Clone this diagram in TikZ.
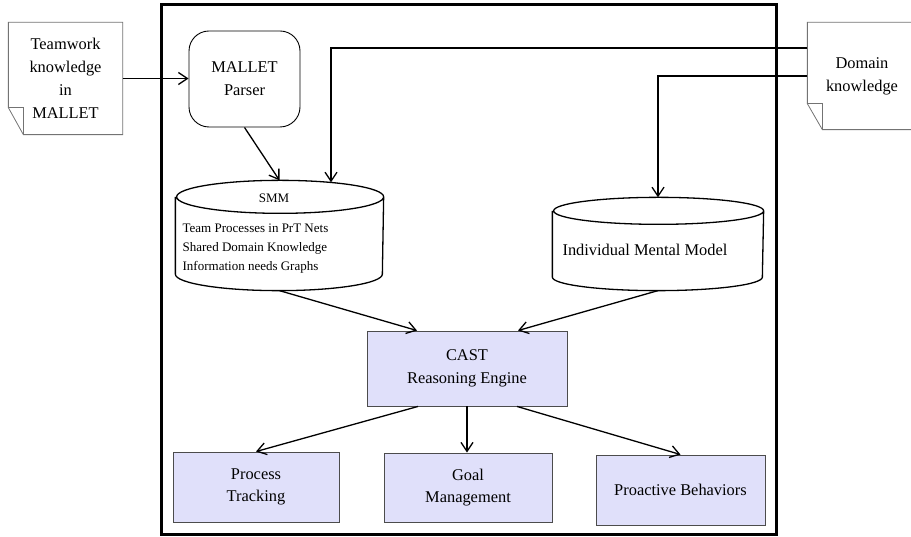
\documentclass[tikz,border=0pt]{standalone}
\usepackage{fontspec}
\setmainfont{Liberation Serif}
\usepackage[dvipsnames]{xcolor}
\definecolor{colorBox}{RGB}{224,224,250}
\colorlet{colorBoxLine}{black!70}
\colorlet{colorPage}{black!55}
\usepackage{tikz}
\usetikzlibrary{arrows.meta, positioning}
\newcommand{\bigtext}{\fontsize{16.4}{22.8}\selectfont}
\newcommand{\smalltext}{\fontsize{13}{19}\selectfont}
\tikzset{
  page/.style={draw=none, align=center, font=\bigtext, inner sep=0pt},
  pageline/.style={draw=colorPage, line width=0.8pt},
  module/.style={draw=colorBoxLine, line width=0.9pt, fill=colorBox, align=center, font=\bigtext, inner sep=0pt},
  db/.style={draw, line width=1.3pt},
}

\begin{document}
\begin{tikzpicture}[x=1pt, y=1pt, >={Straight Barb[length=9pt,width=12pt]}, line width=1.3pt]
\useasboundingbox (0,0) rectangle (911,537);
\node[draw, line width=3pt, minimum width=615pt, minimum height=530pt] (agent) at (468.5,267) {};
\node[page, minimum width=113pt, minimum height=111pt] (team) at (65.5,458.5) {Teamwork\\knowledge\\in\\MALLET};
\draw[pageline] (team.north west) -- (team.north east) -- (team.south east) -- ([xshift=15pt]team.south west) -- ([yshift=27pt]team.south west) -- cycle;
\draw[pageline] ([yshift=27pt]team.south west) -- ([xshift=15pt,yshift=27pt]team.south west) -- ([xshift=15pt]team.south west);
\node[page, minimum width=108pt, minimum height=106pt] (dom) at (862,461) {Domain\\knowledge};
\draw[pageline] (dom.north west) -- (dom.north east) -- (dom.south east) -- ([xshift=15pt]dom.south west) -- ([yshift=26pt]dom.south west) -- cycle;
\draw[pageline] ([yshift=26pt]dom.south west) -- ([xshift=15pt,yshift=26pt]dom.south west) -- ([xshift=15pt]dom.south west);
\node[draw, line width=0.9pt, rounded corners=20pt, minimum width=111pt, minimum height=96pt, align=center, font=\bigtext] (mallet) at (244.5,458) {MALLET\\Parser};
\node[minimum width=207pt, minimum height=109pt] (smm) at (279.5,301.5) {};
\draw[db] ([yshift=-16.5pt]smm.north west) -- ([yshift=16.5pt]smm.south west) arc[start angle=180, end angle=360, x radius=103.5pt, y radius=16.5pt] -- ([yshift=-16.5pt]smm.north east) arc[start angle=0, end angle=360, x radius=103.5pt, y radius=16.5pt];
\node[font=\smalltext] (smmname) at (274,339) {SMM};
\node[font=\smalltext, align=left, anchor=west, inner sep=0pt] (smmtext) at (182,288) {Team Processes in PrT Nets\\Shared Domain Knowledge\\Information needs Graphs};
\node[minimum width=210pt, minimum height=92pt] (imm) at (658,293) {};
\draw[db] ([yshift=-13.5pt]imm.north west) -- ([yshift=13.5pt]imm.south west) arc[start angle=180, end angle=360, x radius=105pt, y radius=13.5pt] -- ([yshift=-13.5pt]imm.north east) arc[start angle=0, end angle=360, x radius=105pt, y radius=13.5pt];
\node[font=\bigtext] (immtext) at (645,287) {Individual Mental Model};
\node[module, minimum width=200pt, minimum height=75pt] (cast) at (467,168.5) {CAST\\Reasoning Engine};
\node[module, minimum width=166pt, minimum height=70pt] (track) at (256,50) {Process\\Tracking};
\node[module, minimum width=168pt, minimum height=69pt] (goal) at (468,49.5) {Goal\\Management};
\node[module, minimum width=169pt, minimum height=70pt] (proact) at (680.5,47) {Proactive Behaviors};
\draw[->] (team.east) -- (team.east -| mallet.west);
\draw[->] (mallet.south) -- (smm.north);
\draw[->] ([yshift=28pt]dom.west) -| ([xshift=51.5pt,yshift=-2pt]smm.north);
\draw[->] (dom.west) -| (imm.north);
\draw[->] (smm.south) -- ([xshift=-50pt]cast.north);
\draw[->] (imm.south) -- ([xshift=51pt]cast.north);
\draw[->] ([xshift=-49pt]cast.south) -- (track.north);
\draw[->] (cast.south) -- (cast.south |- goal.north);
\draw[->] ([xshift=50pt]cast.south) -- (proact.north);
\end{tikzpicture}
\end{document}
